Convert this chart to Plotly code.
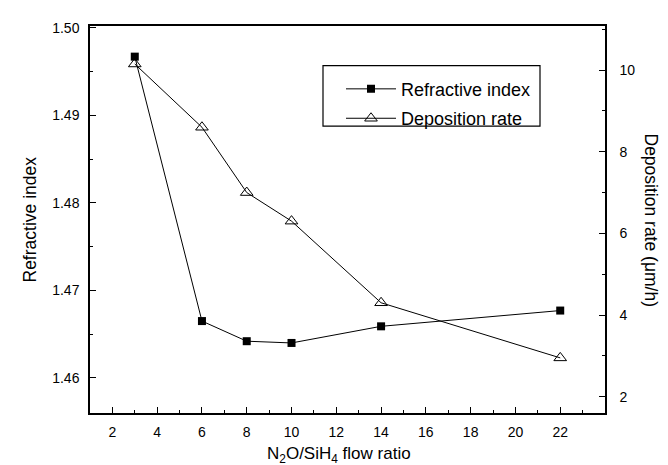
import plotly.graph_objects as go

flow_ratio = [3, 6, 8, 10, 14, 22]
refractive_index = [1.4967, 1.4665, 1.4642, 1.4640, 1.4659, 1.4677]
deposition_rate = [10.15, 8.6, 7.0, 6.3, 4.3, 2.95]

x_ticks = [2, 4, 6, 8, 10, 12, 14, 16, 18, 20, 22]
left_ticks = [1.46, 1.47, 1.48, 1.49, 1.50]
right_ticks = [2, 4, 6, 8, 10]

FONT = "Liberation Sans, Arial, sans-serif"

# plot area in pixels: x 82..597, y 15..405
L, R, T, B = 82, 597, 15, 405
def px(x):
    return (x - L) / (R - L)
def py(y):
    return (B - y) / (B - T)

fig = go.Figure()
fig.add_trace(go.Scatter(
    x=flow_ratio, y=refractive_index, name="Refractive index",
    mode="lines+markers", legendgroup="a",
    line=dict(color="black", width=1),
    marker=dict(symbol="square", size=8, color="black"),
))
fig.add_trace(go.Scatter(
    x=flow_ratio, y=deposition_rate, name="Deposition rate",
    mode="lines+markers", yaxis="y2", legendgroup="b",
    line=dict(color="black", width=1),
    marker=dict(symbol="triangle-up-open", size=11, color="black", line=dict(width=1)),
))

axis_common = dict(
    showline=True, linecolor="black", linewidth=1.5,
    ticks="inside", ticklen=6, tickwidth=1, tickcolor="black",
    showgrid=False, zeroline=False,
    tickfont=dict(family=FONT, size=14, color="black"),
)

fig.update_layout(
    width=668, height=465,
    margin=dict(l=L, r=668 - R, t=T, b=465 - B),
    paper_bgcolor="white", plot_bgcolor="white",
    font=dict(family=FONT, color="black"),
    showlegend=True,
    legend=dict(
        x=px(333), y=py(60), xanchor="left", yanchor="top",
        borderwidth=0, bgcolor="rgba(0,0,0,0)",
        font=dict(family=FONT, size=18, color="black"),
        traceorder="grouped", tracegroupgap=3, itemwidth=50,
    ),
    xaxis=dict(
        range=[1, 24], tickvals=x_ticks, mirror=True,
        minor=dict(ticks="inside", dtick=1, ticklen=3, tickcolor="black"),
        ticklabelstandoff=5,
        **axis_common,
    ),
    yaxis=dict(
        range=[1.456, 1.5002], tickvals=left_ticks, tickformat=".2f",
        minor=dict(ticks="inside", dtick=0.005, ticklen=3, tickcolor="black"),
        ticklabelstandoff=6,
        **axis_common,
    ),
    yaxis2=dict(
        range=[1.6, 11.08], tickvals=right_ticks, overlaying="y", side="right",
        minor=dict(ticks="inside", dtick=1, ticklen=3, tickcolor="black"),
        ticklabelstandoff=10,
        **axis_common,
    ),
    shapes=[
        dict(type="rect", xref="paper", yref="paper",
             x0=px(315), x1=px(532), y0=py(116), y1=py(55),
             line=dict(color="black", width=1.2), fillcolor="rgba(0,0,0,0)",
             layer="below"),
    ],
    annotations=[
        dict(text="Refractive index", xref="paper", yref="paper", x=px(21), y=0.5,
             textangle=-90, showarrow=False, xanchor="center", yanchor="middle",
             font=dict(family=FONT, size=17.5, color="black")),
        dict(text="Deposition rate (μm/h)", xref="paper", yref="paper", x=px(643), y=0.5,
             textangle=90, showarrow=False, xanchor="center", yanchor="middle",
             font=dict(family=FONT, size=17.5, color="black")),
        dict(text="N<sub>2</sub>O/SiH<sub>4</sub> flow ratio", xref="paper", yref="paper",
             x=px(331), y=py(447), showarrow=False, xanchor="center", yanchor="middle",
             font=dict(family=FONT, size=17, color="black")),
    ],
)

fig.write_html("out.html")
